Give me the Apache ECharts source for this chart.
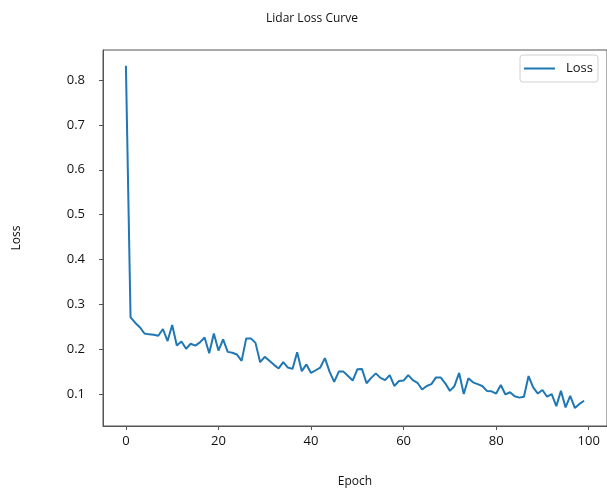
<!DOCTYPE html>
<html>
<head>
<meta charset="utf-8">
<script src="https://cdn.jsdelivr.net/npm/echarts@6/dist/echarts.min.js"></script>
<style>
html,body{margin:0;padding:0;background:#fff;}
#chart{width:607px;height:494px;}
</style>
</head>
<body>
<div id="chart"></div>
<script>
const epochs = Array.from({length: 100}, (_, i) => i);
const lossValues = [
  0.832, 0.271, 0.259, 0.249, 0.235, 0.233, 0.232, 0.230, 0.245, 0.218,
  0.254, 0.208, 0.217, 0.201, 0.212, 0.208, 0.215, 0.226, 0.191, 0.235,
  0.197, 0.222, 0.194, 0.192, 0.188, 0.174, 0.224, 0.224, 0.214, 0.171,
  0.183, 0.174, 0.165, 0.157, 0.171, 0.159, 0.156, 0.193, 0.151, 0.166,
  0.147, 0.153, 0.159, 0.180, 0.150, 0.127, 0.150, 0.150, 0.140, 0.130,
  0.155, 0.156, 0.124, 0.136, 0.146, 0.136, 0.131, 0.142, 0.118, 0.129,
  0.130, 0.142, 0.131, 0.125, 0.110, 0.118, 0.122, 0.137, 0.137, 0.124,
  0.107, 0.118, 0.147, 0.100, 0.135, 0.126, 0.122, 0.118, 0.107, 0.106,
  0.101, 0.120, 0.099, 0.104, 0.095, 0.092, 0.094, 0.140, 0.115, 0.101,
  0.109, 0.094, 0.100, 0.073, 0.107, 0.070, 0.096, 0.069, 0.078, 0.085
];
const xTicks = [0, 20, 40, 60, 80, 100];
const yTicks = [0.1, 0.2, 0.3, 0.4, 0.5, 0.6, 0.7, 0.8];

const chart = echarts.init(document.getElementById('chart'));
const font = '"Open Sans", "DejaVu Sans", sans-serif';
chart.setOption({
  animation: false,
  backgroundColor: '#fff',
  textStyle: {fontFamily: font},
  title: {
    text: 'Lidar Loss Curve',
    left: 307, top: 8, textAlign: 'center',
    textStyle: {fontSize: 12, fontWeight: 'normal', color: '#111', fontFamily: font}
  },
  legend: {
    data: ['Loss'],
    left: 520, top: 55,
    icon: 'rect', itemWidth: 31, itemHeight: 2,
    padding: [7, 5, 7, 4],
    borderColor: '#d0d0d0', borderWidth: 1, borderRadius: 3,
    textStyle: {fontSize: 13, color: '#111', fontFamily: font, padding: [0, 0, 0, 6]}
  },
  grid: {
    left: 103, top: 50, width: 508, height: 376,
    show: true, borderColor: '#555', borderWidth: 1, containLabel: false
  },
  xAxis: {
    type: 'value', min: -4.95, max: 103.95,
    name: 'Epoch', nameLocation: 'middle', nameGap: 50,
    nameTextStyle: {fontSize: 12, color: '#111', fontFamily: font},
    axisLine: {show: true, onZero: false, lineStyle: {color: '#555', width: 1}},
    axisTick: {show: true, length: 4, inside: false, customValues: xTicks, lineStyle: {color: '#555'}},
    axisLabel: {show: true, customValues: xTicks, margin: 9, fontSize: 13, color: '#111', fontFamily: font},
    splitLine: {show: false}
  },
  yAxis: {
    type: 'value', min: 0.0287, max: 0.867,
    name: 'Loss', nameLocation: 'middle', nameGap: 80,
    nameTextStyle: {fontSize: 12, color: '#111', fontFamily: font},
    axisLine: {show: true, onZero: false, lineStyle: {color: '#555', width: 1}},
    axisTick: {show: true, length: 4, inside: false, customValues: yTicks, lineStyle: {color: '#555'}},
    axisLabel: {show: true, customValues: yTicks, margin: 18, fontSize: 13, color: '#111', fontFamily: font,
      formatter: v => v.toFixed(1)},
    splitLine: {show: false}
  },
  series: [{
    name: 'Loss', type: 'line', symbol: 'none',
    data: epochs.map((e, i) => [e, lossValues[i]]),
    lineStyle: {color: '#1f77b4', width: 2},
    itemStyle: {color: '#1f77b4'}
  }]
});
</script>
</body>
</html>
